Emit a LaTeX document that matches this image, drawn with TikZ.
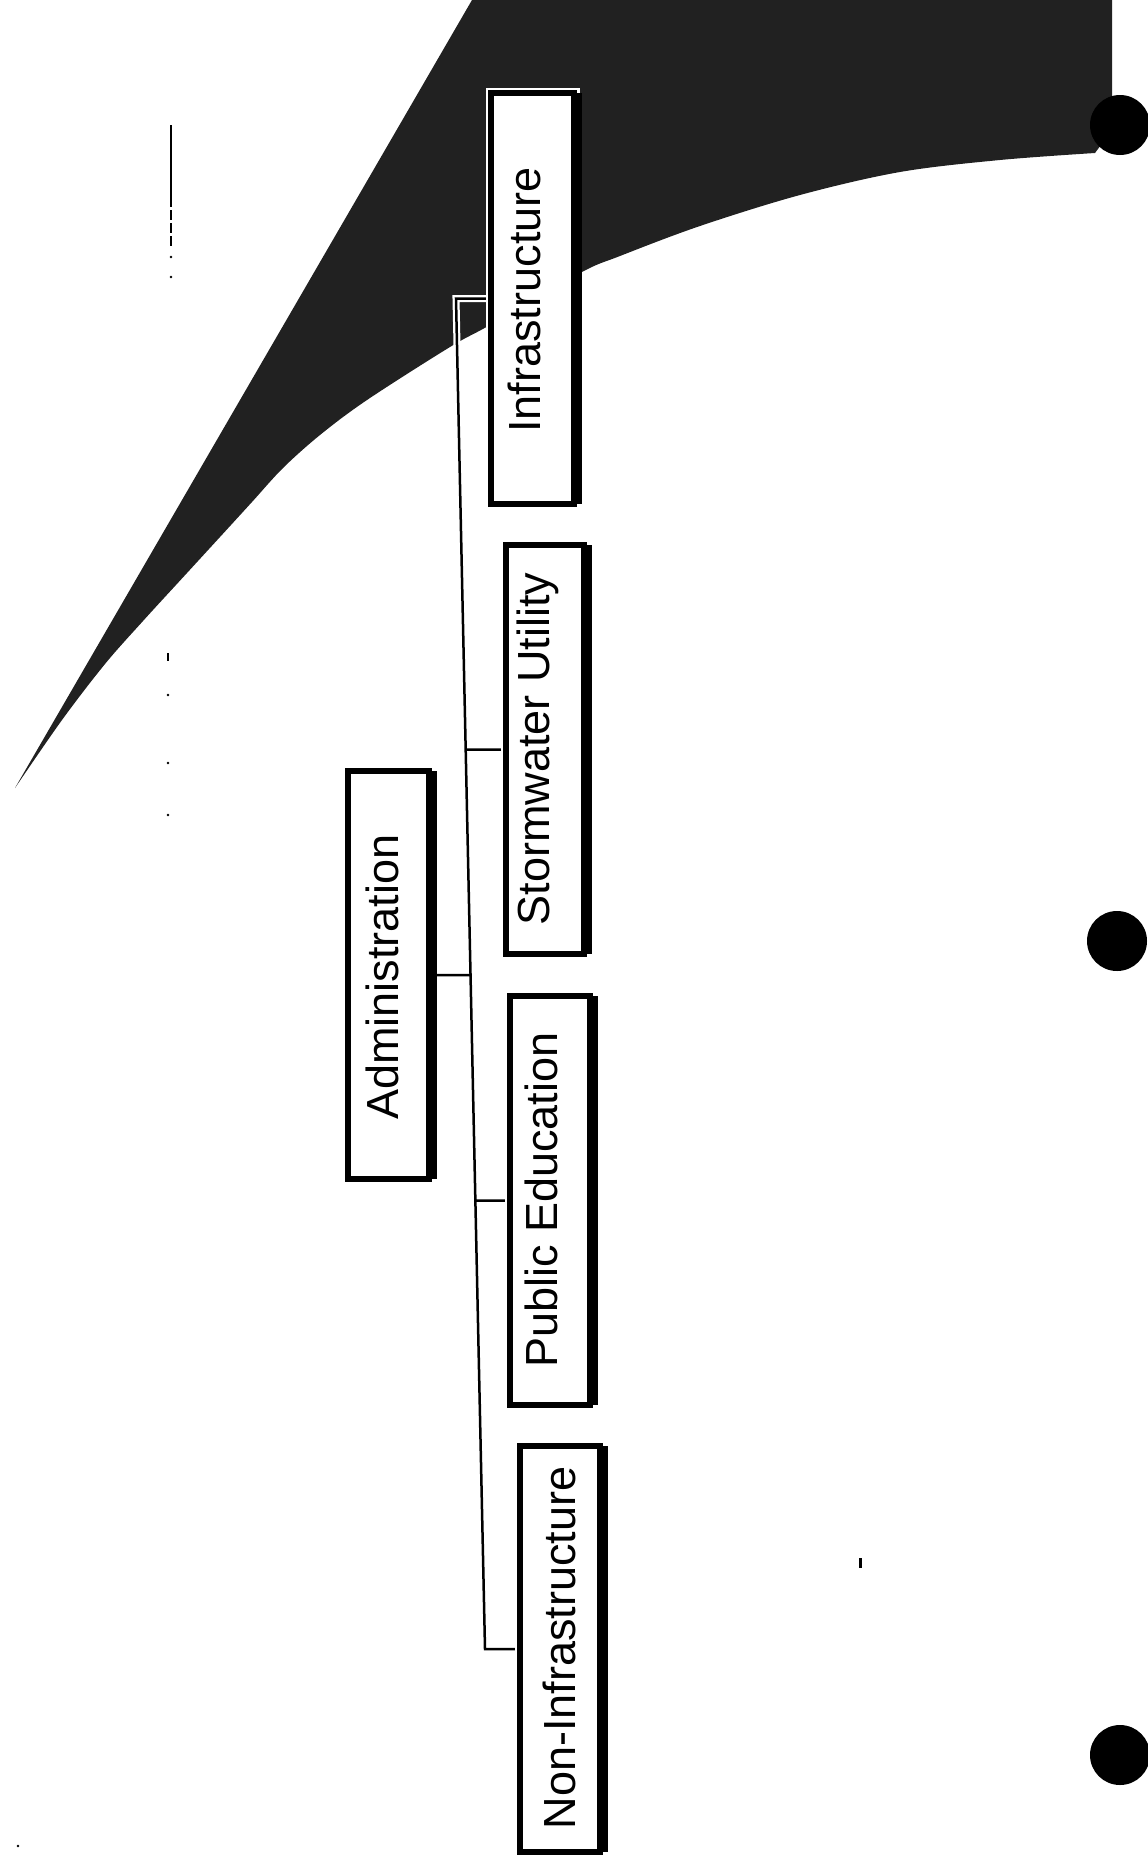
\documentclass[tikz,border=0pt]{standalone}
\usepackage{fontspec}
\setmainfont{Liberation Sans}
\usetikzlibrary{shadows}
\pgfdeclarelayer{bg}
\pgfsetlayers{bg,main}
\begin{document}
\begin{tikzpicture}[x=1pt,y=-1pt,
  darkfill/.style={fill=black!87},
  orgbox/.style={draw, line width=6pt, fill=white, inner sep=0pt,
    preaction={draw=white, line width=11pt},
    drop shadow={shadow xshift=8pt, shadow yshift=0pt, opacity=1, fill=black}},
  lbl/.style={font=\fontsize{45}{54}\selectfont, rotate=90, anchor=base, inner sep=0pt},
  conn/.style={line width=2.5pt, preaction={draw=white, line width=7pt}},
  pagemark/.style={line width=2pt}
]
\useasboundingbox (0,0) rectangle (1148,1863);
\begin{pgfonlayer}{bg}
% shaded region
\fill[darkfill] (15,788) -- (472,0) -- (1112,0) -- (1112,130) --
  plot[smooth, tension=0.55] coordinates {(1095,153) (1000,160) (900,172) (800,195) (700,226) (620,256) (580,273) (490,325) (450,347) (367,400) (320,435) (283,468) (252,502) (220,537) (187,573) (143,621) (105,664) (62,720) (15,788)} -- cycle;
\end{pgfonlayer}
% punch holes
\fill (1120,125) circle[radius=30pt];
\fill (1117,941) circle[radius=30pt];
\fill (1120,1755) circle[radius=30pt];
% margin marks
\draw[pagemark] (171,125) -- (171,197);
\draw[pagemark, dash pattern=on 10pt off 3pt] (171,197) -- (171,248);
\fill (171,257) circle[radius=1.3pt];
\fill (171,277) circle[radius=1.3pt];
\draw[line width=2.5pt] (168,653) -- (168,661);
\fill (168,695) circle[radius=1.4pt];
\fill (168,763) circle[radius=1.4pt];
\fill (168,815) circle[radius=1.4pt];
\draw[line width=3pt] (860,1558) -- (860,1568);
\fill (18,1846) circle[radius=1.3pt];
% boxes
\path
  (532.5,298.5) node[orgbox, minimum width=83pt, minimum height=411pt] (infra) {}
  (545,749.5)   node[orgbox, minimum width=78pt, minimum height=409pt] (storm) {}
  (550,1200.5)  node[orgbox, minimum width=80pt, minimum height=409pt] (public) {}
  (560,1649)    node[orgbox, minimum width=80pt, minimum height=406pt] (noninfra) {}
  (388.5,975)   node[orgbox, minimum width=81pt, minimum height=408pt] (admin) {};
% bus coordinates
\coordinate (bt) at (456,298.5);
\coordinate (bs) at (465.7,749.5);
\coordinate (ba) at (470.5,975);
\coordinate (bp) at (475.4,1200.5);
\coordinate (bb) at (485,1649);
\begin{pgfonlayer}{bg}
\draw[conn] (infra.west) -- (bt) -- (bb) -- (noninfra.west)
  (storm.west) -- (bs) (admin.east) -- (ba) (public.west) -- (bp);
\end{pgfonlayer}
% labels
\node[lbl] (tinfra) at (540,300) {Infrastructure};
\node[lbl] (tstorm) at (549,749) {Stormwater Utility};
\node[lbl] (tpublic) at (557,1200) {Public Education};
\node[lbl] (tnon) at (575,1648) {Non-Infrastructure};
\node[lbl] (tadmin) at (398,977) {Administration};
\end{tikzpicture}
\end{document}
